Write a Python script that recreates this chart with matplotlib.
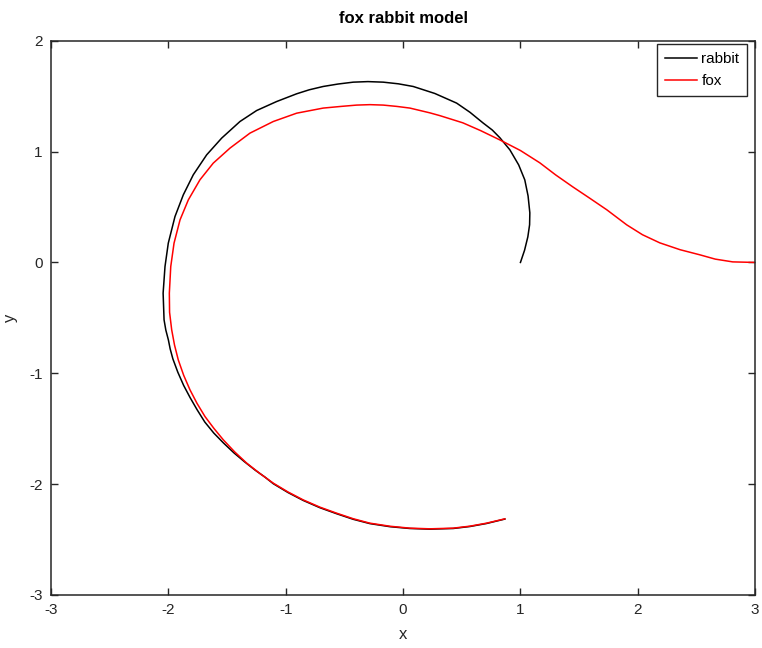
import matplotlib
matplotlib.use('Agg')
import matplotlib.pyplot as plt

# rabbit path (x, y)
rabbit_x = [1.000, 1.035, 1.063, 1.078, 1.080, 1.065, 1.037, 0.985, 0.910, 0.825, 0.760,
            0.680, 0.570, 0.456, 0.270, 0.086, -0.040, -0.169, -0.300, -0.425, -0.555,
            -0.681, -0.800, -0.907, -1.078, -1.248, -1.390, -1.546, -1.674, -1.788, -1.873,
            -1.944, -2.001, -2.029, -2.045, -2.037, -2.022, -2.000, -1.985, -1.962, -1.920,
            -1.870, -1.815, -1.755, -1.690, -1.613, -1.530, -1.440, -1.350, -1.260, -1.180,
            -1.106, -0.980, -0.851, -0.710, -0.566, -0.425, -0.283, -0.110, 0.058, 0.228,
            0.427, 0.570, 0.711, 0.867]
rabbit_y = [0.000, 0.110, 0.231, 0.340, 0.448, 0.600, 0.745, 0.880, 1.016, 1.125, 1.195,
            1.260, 1.355, 1.438, 1.525, 1.588, 1.612, 1.627, 1.632, 1.627, 1.610,
            1.588, 1.558, 1.522, 1.452, 1.371, 1.272, 1.122, 0.971, 0.791, 0.610,
            0.414, 0.174, -0.037, -0.277, -0.518, -0.610, -0.700, -0.780, -0.870, -0.990,
            -1.110, -1.220, -1.330, -1.440, -1.540, -1.630, -1.720, -1.800, -1.875, -1.935,
            -1.997, -2.077, -2.148, -2.213, -2.268, -2.318, -2.357, -2.385, -2.401, -2.407,
            -2.401, -2.383, -2.356, -2.316]

# fox path (x, y)
fox_x = [3.000, 2.809, 2.660, 2.528, 2.360, 2.187, 2.040, 1.906, 1.736, 1.590, 1.446,
         1.300, 1.165, 1.000, 0.824, 0.660, 0.509, 0.313, 0.228, 0.058, -0.053, -0.169,
         -0.283, -0.396, -0.530, -0.681, -0.907, -1.106, -1.305, -1.475, -1.618, -1.731,
         -1.830, -1.901, -1.952, -1.980, -1.992, -1.990, -1.972, -1.948, -1.916, -1.870,
         -1.816, -1.756, -1.688, -1.612, -1.532, -1.435, -1.333, -1.220, -1.106, -0.980,
         -0.851, -0.710, -0.566, -0.425, -0.283, -0.110, 0.058, 0.228, 0.427, 0.570,
         0.711, 0.867]
fox_y = [0.000, 0.005, 0.030, 0.069, 0.115, 0.177, 0.250, 0.339, 0.475, 0.580, 0.682,
         0.790, 0.899, 1.010, 1.106, 1.190, 1.260, 1.325, 1.350, 1.393, 1.408, 1.420,
         1.424, 1.420, 1.408, 1.393, 1.347, 1.272, 1.167, 1.032, 0.896, 0.746,
         0.565, 0.384, 0.174, -0.037, -0.277, -0.450, -0.608, -0.745, -0.879, -1.018,
         -1.150, -1.272, -1.391, -1.498, -1.601, -1.710, -1.811, -1.905, -1.992, -2.072,
         -2.143, -2.208, -2.263, -2.313, -2.353, -2.381, -2.398, -2.404, -2.398, -2.380,
         -2.353, -2.314]

plt.rcParams['font.family'] = ['Liberation Sans', 'DejaVu Sans']
plt.rcParams['axes.unicode_minus'] = False

fig = plt.figure(figsize=(7.62, 6.48), dpi=100)
ax = fig.add_axes([0.067, 0.082, 0.924, 0.855])

ax.plot(rabbit_x, rabbit_y, color='black', lw=1.1, label='rabbit')
ax.plot(fox_x, fox_y, color='red', lw=1.1, label='fox')

ax.set_xlim(-3, 3)
ax.set_ylim(-3, 2)
ax.set_xticks([-3, -2, -1, 0, 1, 2, 3])
ax.set_yticks([-3, -2, -1, 0, 1, 2])
ax.tick_params(direction='in', top=True, right=True, length=5, width=1,
               labelsize=11, colors='#262626', pad=6)
for s in ax.spines.values():
    s.set_linewidth(1.1)
    s.set_color('#262626')

ax.set_title('fox rabbit model', fontsize=12, fontweight='bold', pad=13)
ax.set_xlabel('x', fontsize=12, color='#262626', labelpad=7)
ax.set_ylabel('y', fontsize=12, color='#262626', labelpad=8)

leg = ax.legend(loc='upper right', bbox_to_anchor=(0.9886, 0.9937), borderaxespad=0,
                fontsize=11, handlelength=2.1, handletextpad=0.3, fancybox=False,
                framealpha=1, borderpad=0.5, labelspacing=0.55)
leg.get_frame().set_edgecolor('#262626')
leg.get_frame().set_linewidth(1)

fig.savefig('out.png', dpi=100)
